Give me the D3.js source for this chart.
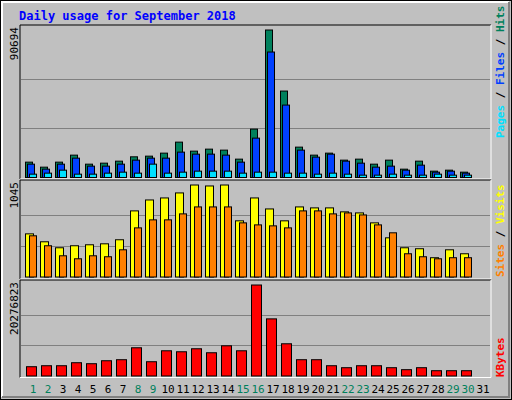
<!DOCTYPE html><html><head><script src="https://cdn.jsdelivr.net/npm/d3@7"></script>
<style>body{margin:0;background:#fff}</style></head><body><svg id="c" width="512" height="400"></svg>
<script>
const days=d3.range(1,32);
const weekend=[1,2,8,9,15,16,22,23,29,30];
const hits=[9440,6360,9440,13750,8200,8820,10050,12720,13130,14980,21750,16210,17440,16830,11290,29750,90694,53150,18670,13750,14980,10670,11290,8200,10670,5130,10050,3900,4510,3280,0];
const files=[8200,5130,8200,11900,6980,6980,8200,10670,11900,11900,15600,14360,14360,13750,9440,24210,77150,44530,16830,12520,14360,10050,8820,6360,6980,4510,7590,3280,3900,2670,0];
const pages=[2050,2670,4510,2050,2050,2670,3280,2670,8200,2670,3280,3900,3900,3900,2670,3280,3280,2670,2670,2050,2670,2050,1440,1440,2050,1440,1440,2050,1440,1440,0];
const visits=[490,400,332,355,366,377,423,751,875,898,955,1045,1034,1045,638,898,773,638,796,785,785,740,728,615,445,332,321,219,309,264,0];
const sites=[468,355,241,207,241,230,309,558,649,649,717,796,796,796,615,592,581,558,751,751,717,728,705,592,502,264,230,207,219,219,0];
const kbytes=[2070000,2290000,2290000,2960000,2740000,3400000,3630000,6290000,3180000,5620000,5400000,6070000,5180000,6730000,5620000,20276823,12730000,7180000,3630000,3630000,2290000,1850000,2290000,2290000,1850000,1410000,1850000,1180000,1180000,1180000,0];
const maxLabels=["90694","1045","20276823"];

const svg=d3.select("#c");
const F="'DejaVu Sans Mono',monospace";
svg.append("rect").attr("x",0).attr("y",0).attr("width",512).attr("height",400).attr("fill","#C0C0C0");
svg.append("rect").attr("x",0.5).attr("y",0.5).attr("width",511).attr("height",399).attr("fill","none").attr("stroke","#000");
svg.append("path").attr("d","M2,397V2H509").attr("fill","none").attr("stroke","#fff").attr("stroke-width",2);
svg.append("path").attr("d","M2,397H509V2").attr("fill","none").attr("stroke","#808080").attr("stroke-width",2);
svg.append("text").attr("x",19).attr("y",20).attr("fill","#0000FF").attr("font-family",F).attr("font-weight","bold").attr("font-size",12).text("Daily usage for September 2018");

const x=d3.scaleBand().domain(days).range([25,25+31*15]);
const L=20,R=491;
const panels=[{top:25,base:177,max:90694},{top:180,base:276.5,max:1045},{top:280,base:375.5,max:20276823}];
panels.forEach((p,i)=>{
  const y=d3.scaleLinear().domain([0,p.max]).range([p.base,p.top+4.5]);
  p.y=y;
  const bottom=i<2?panels[i+1].top-1:p.base+2;
  svg.append("path").attr("d",`M${L},${bottom}V${p.top}H${R}`).attr("stroke","#000").attr("fill","none");
  svg.append("path").attr("d",`M${R},${p.top}V${bottom}H${L}`).attr("stroke","#fff").attr("fill","none");
  [1,2].forEach(k=>svg.append("line").attr("x1",L+1).attr("x2",R-1).attr("y1",Math.round(y(p.max*k/3))+0.5).attr("y2",Math.round(y(p.max*k/3))+0.5).attr("stroke","#808080"));
  svg.append("text").attr("transform",`translate(18,${p.top+2}) rotate(-90)`).attr("text-anchor","end").attr("font-family",F).attr("font-size",11).attr("fill","#000").text(maxLabels[i]);
});
function bars(data,panel,off,w,color){
  const y=panels[panel].y;
  svg.append("g").selectAll("rect").data(days.filter((d,i)=>data[i]>0)).join("rect")
   .attr("x",d=>x(d)+off+0.5).attr("y",d=>y(data[d-1])+0.5).attr("width",w).attr("height",d=>panels[panel].base-y(data[d-1]))
   .attr("fill",color).attr("stroke","#000");
}
bars(hits,0,0,7,"#00805C");bars(files,0,2,7,"#0040FF");bars(pages,0,4,7,"#00E0FF");
bars(visits,1,0,8,"#FFFF00");bars(sites,1,4,7,"#FF8000");
bars(kbytes,2,1,10,"#FF0000");
svg.append("g").selectAll("text").data(days).join("text").attr("x",d=>x(d)+8).attr("y",393).attr("text-anchor","middle")
 .attr("font-family",F).attr("font-size",11).attr("fill",d=>weekend.includes(d)?"#00805C":"#000").text(d=>d);
function rlegend(parts,yb){
  const t=svg.append("text").attr("transform",`translate(504,${yb}) rotate(-90)`).attr("font-family",F).attr("font-weight","bold").attr("font-size",11);
  parts.forEach(([s,c])=>t.append("tspan").attr("fill",c).text(s));
}
rlegend([["Pages","#00E0FF"],[" / ","#000"],["Files","#0040FF"],[" / ","#000"],["Hits","#00805C"]],138);
rlegend([["Sites","#FF8000"],[" / ","#000"],["Visits","#FFFF00"]],277);
rlegend([["KBytes","#FF0000"]],377);
</script></body></html>
